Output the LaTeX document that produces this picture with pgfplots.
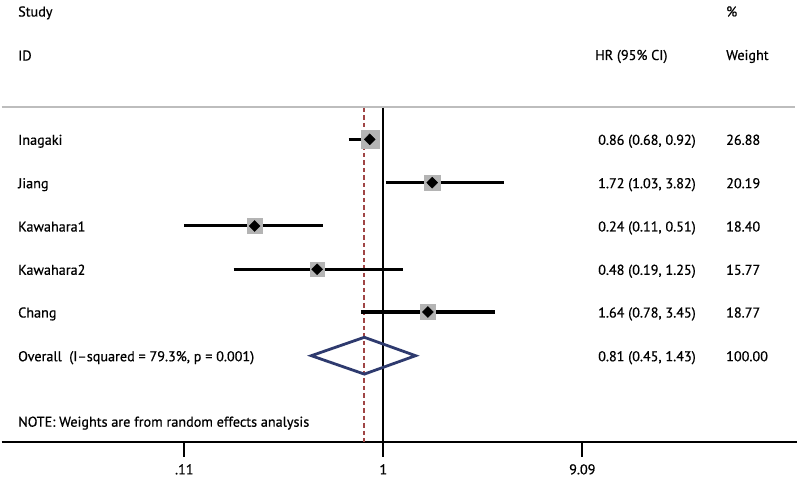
\documentclass[border=0pt]{standalone}
\usepackage{fontspec}
\setmainfont{PT Sans}[FakeBold=0.6]
\usepackage{pgfplots}
\pgfplotsset{compat=1.18}
\definecolor{navy}{HTML}{2E3A6E}
\definecolor{dred}{HTML}{A04545}
\definecolor{sqgrey}{HTML}{B4B4B4}
\definecolor{lgrey}{HTML}{BDBDBD}
\begin{document}
\begin{tikzpicture}[font=\fontsize{14.2}{16}\selectfont]
\begin{axis}[
  at={(0pt,0pt)}, anchor=south west,
  scale only axis, width=795pt, height=441.7pt,
  xmode=log, xmin=0.01451, xmax=98.0, ymin=-441.7, ymax=0,
  axis x line*=bottom, axis y line=none,
  x axis line style={line width=2pt, black},
  xtick={0.11,1,9.09}, xticklabels={.11,1,9.09},
  minor xtick={},
  major tick length=15pt, tick align=outside,
  tick style={line width=2pt, black},
  xticklabel style={font=\fontsize{14.2}{16}\selectfont, yshift=-4pt},
  clip=false,
]
% header separator
\addplot[lgrey, line width=2pt] coordinates {(0.01451,-106.7) (96.2,-106.7)};
% null line
\addplot[black, line width=2pt] coordinates {(1,-107.7) (1,-441.7)};
% overall effect line
\addplot[dred, line width=2.2pt, dash pattern=on 4.5pt off 3pt] coordinates {(0.81,-108) (0.81,-441.7)};
% confidence intervals
\addplot[black, line width=3pt] coordinates {(0.68,-139.3) (0.92,-139.3)};
\addplot[black, line width=3pt] coordinates {(1.03,-182.7) (3.82,-182.7)};
\addplot[black, line width=3pt] coordinates {(0.11,-226) (0.51,-226)};
\addplot[black, line width=3pt] coordinates {(0.19,-269.3) (1.25,-269.3)};
\addplot[black, line width=3pt] coordinates {(0.78,-312) (3.45,-312)};
% weight squares
\addplot[sqgrey, only marks, mark=square*, mark size=9pt] coordinates {(0.86,-139.3)};
\addplot[sqgrey, only marks, mark=square*, mark size=7.8pt] coordinates {(1.72,-182.7)};
\addplot[sqgrey, only marks, mark=square*, mark size=7.45pt] coordinates {(0.24,-226)};
\addplot[sqgrey, only marks, mark=square*, mark size=6.9pt] coordinates {(0.48,-269.3)};
\addplot[sqgrey, only marks, mark=square*, mark size=7.5pt] coordinates {(1.64,-312)};
% point estimates
\addplot[black, only marks, mark=diamond*, mark size=5.5pt, mark options={xscale=1.33}] coordinates {
(0.86,-139.3) (1.72,-182.7) (0.24,-226) (0.48,-269.3) (1.64,-312)};
% overall diamond
\addplot[navy, line width=2.8pt, line join=miter] coordinates {(0.45,-355.7) (0.81,-337.3) (1.43,-355.7) (0.81,-374.1)} -- cycle;
\end{axis}
\begin{scope}[x=1pt, y=-1pt, shift={(-1.7pt,441.7pt)}, every node/.style={inner sep=0pt, anchor=base west}]
\path[use as bounding box] (0,0) rectangle (800,482);
\node at (18,16.5) {Study};
\node at (18,60.5) {ID};
\node at (726,16.5) {\%};
\node at (595,60) {HR (95\% CI)};
\node at (726,60) {Weight};
\node at (18,144.8) {Inagaki};
\node at (18,188.2) {Jiang};
\node at (18,231.5) {Kawahara1};
\node at (18,274.8) {Kawahara2};
\node at (18,317.5) {Chang};
\node at (18,361.2) {Overall\ \ (I--squared = 79.3\%, p = 0.001)};
\node at (598,144.8) {0.86 (0.68, 0.92)};
\node at (598,188.2) {1.72 (1.03, 3.82)};
\node at (598,231.5) {0.24 (0.11, 0.51)};
\node at (598,274.8) {0.48 (0.19, 1.25)};
\node at (598,317.5) {1.64 (0.78, 3.45)};
\node at (598,361.2) {0.81 (0.45, 1.43)};
\node at (726,144.8) {26.88};
\node at (726,188.2) {20.19};
\node at (726,231.5) {18.40};
\node at (726,274.8) {15.77};
\node at (726,317.5) {18.77};
\node at (726,361.2) {100.00};
\node at (18,426.7) {NOTE: Weights are from random effects analysis};
\end{scope}
\end{tikzpicture}
\end{document}
